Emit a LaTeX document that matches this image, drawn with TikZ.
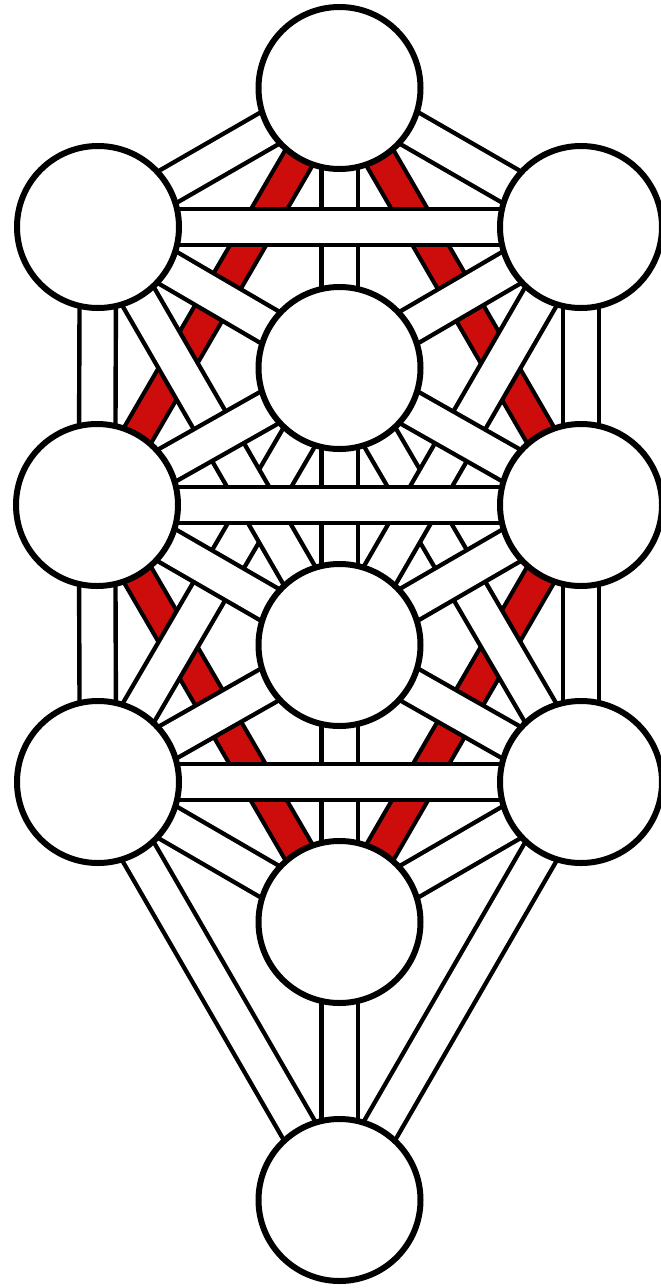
\documentclass[tikz,border=0pt]{standalone}
\pgfdeclarelayer{bars}
\pgfsetlayers{bars,main}
\definecolor{pathred}{RGB}{205,12,12}
\begin{document}
\begin{tikzpicture}[x=1pt,y=-1pt,
  sefira/.style={circle,draw=black,fill=white,line width=6pt,minimum size=162pt,inner sep=0pt},
  bar/.style={draw=black,line width=4.4pt,double=white,double distance=32pt},
  redbar/.style={draw=black,line width=4.2pt,double=pathred,double distance=27pt}]
\useasboundingbox (0,0) rectangle (661,1288);
% circles
\node[sefira] (K)  at (339.5,88)  {};
\node[sefira] (B)  at (98,227)    {};
\node[sefira] (C)  at (581,227)   {};
\node[sefira] (D)  at (339.5,368) {};
\node[sefira] (G)  at (97,505)    {};
\node[sefira] (Ch) at (581,505)   {};
\node[sefira] (T)  at (339.5,645) {};
\node[sefira] (H)  at (98,782)    {};
\node[sefira] (N)  at (581,782)   {};
\node[sefira] (Y)  at (339.5,922) {};
\node[sefira] (M)  at (339.5,1200){};
\begin{pgfonlayer}{bars}
\fill[white] (0,0) rectangle (661,1288);
% red paths (lowest)
\draw[redbar] (K.center) -- (G.center);
\draw[redbar] (K.center) -- (Ch.center);
\draw[redbar] (G.center) -- (Y.center);
\draw[redbar] (Ch.center) -- (Y.center);
% woven diagonals
\draw[bar] (H.center) -- (D.center);
\draw[bar] (N.center) -- (D.center);
\draw[bar] (B.center) -- (T.center);
\draw[bar] (C.center) -- (T.center);
\draw[bar] (G.center) -- (D.center);
\draw[bar] (Ch.center) -- (D.center);
\draw[bar] (G.center) -- (T.center);
\draw[bar] (Ch.center) -- (T.center);
% other diagonals
\draw[bar] (K.center) -- (B.center);
\draw[bar] (K.center) -- (C.center);
\draw[bar] (B.center) -- (D.center);
\draw[bar] (C.center) -- (D.center);
\draw[bar] (H.center) -- (T.center);
\draw[bar] (N.center) -- (T.center);
\draw[bar] (H.center) -- (Y.center);
\draw[bar] (N.center) -- (Y.center);
\draw[bar] (H.center) -- (M.center);
\draw[bar] (N.center) -- (M.center);
% verticals
\draw[bar] (B.center) -- (G.center);
\draw[bar] (G.center) -- (H.center);
\draw[bar] (C.center) -- (Ch.center);
\draw[bar] (Ch.center) -- (N.center);
\draw[bar] (K.center) -- (D.center);
\draw[bar] (D.center) -- (T.center);
\draw[bar] (T.center) -- (Y.center);
\draw[bar] (Y.center) -- (M.center);
% horizontals (top)
\draw[bar] (B.center) -- (C.center);
\draw[bar] (G.center) -- (Ch.center);
\draw[bar] (H.center) -- (N.center);
\end{pgfonlayer}
\end{tikzpicture}
\end{document}
